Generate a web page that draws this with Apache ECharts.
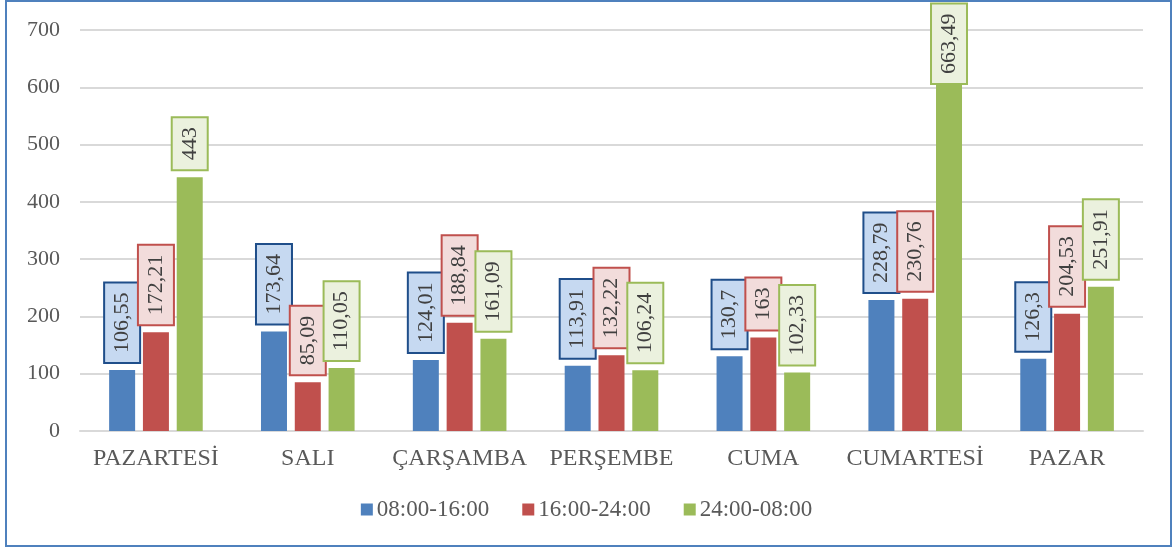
<!DOCTYPE html>
<html>
<head>
<meta charset="utf-8">
<script src="https://cdn.jsdelivr.net/npm/echarts@6/dist/echarts.min.js"></script>
<style>html,body{margin:0;padding:0;background:#fff}#c{width:1173px;height:548px}</style>
</head>
<body>
<div id="c"></div>
<script>
const categories = ['PAZARTESİ', 'SALI', 'ÇARŞAMBA', 'PERŞEMBE', 'CUMA', 'CUMARTESİ', 'PAZAR'];
const seriesNames = ['08:00-16:00', '16:00-24:00', '24:00-08:00'];
const shift1 = [106.55, 173.64, 124.01, 113.91, 130.7, 228.79, 126.3];
const shift2 = [172.21, 85.09, 188.84, 132.22, 163, 230.76, 204.53];
const shift3 = [443, 110.05, 161.09, 106.24, 102.33, 663.49, 251.91];
const yTicks = [0, 100, 200, 300, 400, 500, 600, 700];

const FONT = '"Liberation Serif", "Times New Roman", serif';
const barColors = ['#4f81bd', '#c0504d', '#9bbb59'];
const boxBorders = ['#1f4e8a', '#c0504d', '#9bbb59'];
const boxFills = ['#c6d9f1', '#f2dcdb', '#ebf1de'];

function makeLabel(i) {
  return {
    show: true,
    position: 'top',
    distance: 8,
    rotate: 90,
    align: 'left',
    verticalAlign: 'middle',
    formatter: p => String(p.value).replace('.', ','),
    fontFamily: FONT,
    fontSize: 22,
    color: '#404040',
    backgroundColor: boxFills[i],
    borderColor: boxBorders[i],
    borderWidth: 2,
    padding: [6, 9, 6, 9]
  };
}

function buildData(arr) {
  const maxV = yTicks[yTicks.length - 1];
  return arr.map(v => {
    if (v > maxV - 100) {
      return { value: v, label: { position: 'insideTop', distance: 32 } };
    }
    return v;
  });
}

const dataSets = [shift1, shift2, shift3];
const series = dataSets.map((arr, i) => ({
  name: seriesNames[i],
  type: 'bar',
  barWidth: 26,
  barGap: '30%',
  itemStyle: { color: barColors[i] },
  label: makeLabel(i),
  data: buildData(arr)
}));

const chart = echarts.init(document.getElementById('c'));
chart.setOption({
  animation: false,
  grid: { left: 80, right: 30, top: 30, bottom: 117, containLabel: false },
  legend: {
    bottom: 22,
    left: 'center',
    icon: 'rect',
    itemWidth: 12,
    itemHeight: 12,
    itemGap: 33,
    itemStyle: { borderWidth: 0 },
    textStyle: { fontFamily: FONT, fontSize: 23, color: '#595959', padding: [0, 0, 0, -1] },
    data: seriesNames
  },
  xAxis: {
    type: 'category',
    data: categories,
    axisLine: { lineStyle: { color: '#d9d9d9', width: 2 } },
    axisTick: { show: false },
    axisLabel: { interval: 0, fontFamily: FONT, fontSize: 24, color: '#595959', margin: 16 }
  },
  yAxis: {
    type: 'value',
    min: yTicks[0],
    max: yTicks[yTicks.length - 1],
    interval: 100,
    axisLine: { show: false },
    axisTick: { show: false },
    splitLine: { lineStyle: { color: '#d9d9d9', width: 2 } },
    axisLabel: { fontFamily: FONT, fontSize: 22, color: '#595959', margin: 20 }
  },
  graphic: [{
    type: 'rect',
    shape: { x: 6, y: 1, width: 1165, height: 545 },
    style: { fill: 'none', stroke: '#4f81bd', lineWidth: 2 },
    z: 100
  }],
  series: series
});
</script>
</body>
</html>
